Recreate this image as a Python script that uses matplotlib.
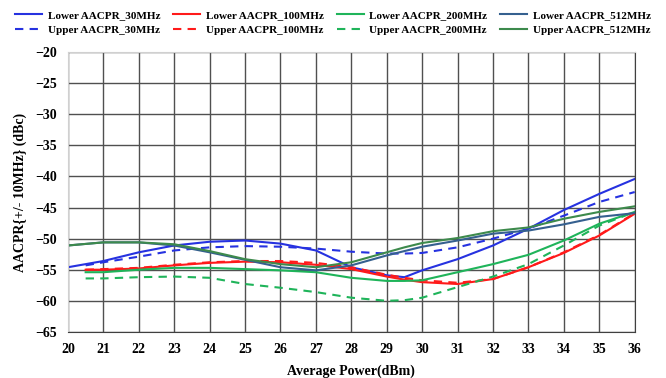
import numpy as np
import matplotlib.pyplot as plt

plt.rcParams['font.family'] = ['Liberation Serif', 'DejaVu Serif']
plt.rcParams['font.weight'] = 'bold'

# power sweep points (dBm)
x_full = [20, 21, 22, 23, 24, 25, 26, 27, 28, 29, 29.5, 30, 31, 32, 33, 34, 35, 36]
x_half = [20.5, 21, 22, 23, 24, 25, 26, 27, 28, 29, 29.5, 30, 31, 32, 33, 34, 35, 36]

lower_30 = [-54.6, -53.6, -52.2, -51.1, -50.5, -50.3, -50.8, -51.9, -54.6, -55.9, -56.2, -55.1, -53.3, -51.1, -48.4, -45.4, -42.8, -40.4]
upper_30 = [-54.3, -53.8, -52.9, -51.9, -51.4, -51.2, -51.3, -51.6, -52.1, -52.4, -52.4, -52.3, -51.4, -50.0, -48.4, -46.3, -44.1, -42.5]
lower_100 = [-55.0, -55.0, -54.8, -54.3, -53.9, -53.7, -53.8, -54.2, -54.9, -56.1, -56.6, -57.0, -57.3, -56.5, -54.6, -52.3, -49.5, -46.0]
upper_100 = [-55.0, -54.9, -54.7, -54.2, -53.8, -53.6, -53.6, -53.9, -54.6, -55.8, -56.3, -56.7, -57.1, -56.5, -54.6, -52.2, -49.4, -45.9]
lower_200 = [-55.4, -55.4, -55.0, -54.7, -54.7, -54.9, -55.1, -55.4, -56.3, -56.8, -56.8, -56.7, -55.4, -54.1, -52.6, -50.3, -47.6, -45.7]
upper_200 = [-56.4, -56.4, -56.2, -56.1, -56.3, -57.3, -57.9, -58.6, -59.5, -60.0, -59.9, -59.5, -57.8, -56.1, -54.1, -51.1, -47.9, -45.7]
lower_512 = [-51.1, -50.6, -50.6, -51.1, -52.2, -53.4, -54.6, -55.1, -54.3, -52.7, -52.0, -51.3, -50.3, -49.2, -48.7, -47.7, -46.5, -45.9]
upper_512 = [-51.1, -50.6, -50.6, -50.9, -52.0, -53.3, -54.1, -54.6, -53.8, -52.2, -51.4, -50.7, -49.9, -48.8, -48.2, -46.8, -45.7, -44.8]

fig = plt.figure(figsize=(6.66, 3.78), dpi=100)
ax = fig.add_axes([0.102, 0.122, 0.851, 0.740])

lw = 1.5
dash = (0, (4, 3))
# interleaved so the 4-column legend reads Lower row / Upper row
ax.plot(x_full, lower_30, color='#2632e0', lw=lw, label='Lower AACPR_30MHz')
ax.plot(x_half, upper_30, color='#2632e0', lw=lw, ls=dash, label='Upper AACPR_30MHz')
ax.plot(x_half, lower_100, color='#ff1a1a', lw=lw, label='Lower AACPR_100MHz')
ax.plot(x_half, upper_100, color='#ff1a1a', lw=lw, ls=dash, label='Upper AACPR_100MHz')
ax.plot(x_half, lower_200, color='#1fb45a', lw=lw, label='Lower AACPR_200MHz')
ax.plot(x_half, upper_200, color='#1fb45a', lw=lw, ls=dash, label='Upper AACPR_200MHz')
ax.plot(x_full, lower_512, color='#35608f', lw=lw, label='Lower AACPR_512MHz')
ax.plot(x_full, upper_512, color='#3d8a4c', lw=lw, label='Upper AACPR_512MHz')

ax.set_xlim(20, 36)
ax.set_ylim(-65, -20)
ax.set_xticks(range(20, 37))
ax.set_yticks(range(-65, -19, 5))
ax.tick_params(length=0, labelsize=10, pad=8)
ax.grid(True, color='#505050', lw=1.0)
for s in ['top', 'left']:
    ax.spines[s].set_color('#d0d0d0')
for s in ['bottom', 'right']:
    ax.spines[s].set_color('#404040')

ax.set_xlabel('Average Power(dBm)', fontsize=10, fontweight='bold', labelpad=6)
ax.set_ylabel('AACPR{+/- 10MHz} (dBc)', fontsize=10, fontweight='bold', labelpad=6)

fig.legend(loc='upper center', bbox_to_anchor=(0.5, 1.0), ncol=4, frameon=False,
           fontsize=8, handlelength=2.4, columnspacing=1.2, handletextpad=0.5,
           labelspacing=0.5)

fig.savefig('out.png', dpi=100)
